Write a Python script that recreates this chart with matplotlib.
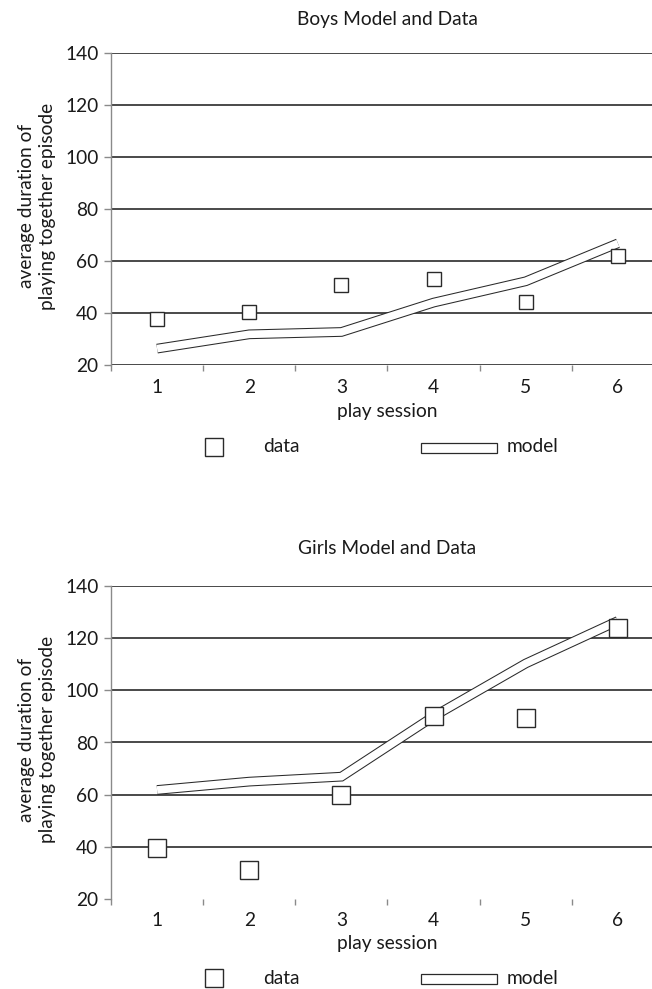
import matplotlib
matplotlib.use("Agg")
import matplotlib.pyplot as plt
import matplotlib.transforms as mtrans
from matplotlib.patches import Rectangle
from matplotlib.lines import Line2D

plt.rcParams['font.family'] = ['Lato', 'DejaVu Sans']

sessions = [1, 2, 3, 4, 5, 6]
session_labels = ["1", "2", "3", "4", "5", "6"]
y_ticks = [20, 40, 60, 80, 100, 120, 140]

boys_data = [37.8, 40.4, 50.9, 53.1, 44.2, 61.8]
boys_model = [26.3, 31.8, 32.7, 44.0, 52.2, 66.8]
girls_data = [39.4, 31.2, 60.0, 90.0, 89.4, 123.8]
girls_model = [61.8, 65.0, 66.9, 90.0, 110.3, 126.6]

titles = ["Boys Model and Data", "Girls Model and Data"]
ylabel = "average duration of\nplaying together episode"
xlabel = "play session"

W, H = 652, 989
DPI = 100
fig = plt.figure(figsize=(W / DPI, H / DPI), dpi=DPI)

TXT = "#1a1a1a"
GRID = "#3a3a3a"
AXC = "#8a8a8a"
FS = 13.8


def fx(px):
    return px / W


def fy(py):
    return 1 - py / H


panels = [
    dict(top=53, bottom=365, data=boys_data, model=boys_model, ms=10.4,
         title_y=20, xtick_y=388, xlabel_y=412, leg_y=447, bottom_line=True),
    dict(top=586, bottom=899, data=girls_data, model=girls_model, ms=12.9,
         title_y=549, xtick_y=921, xlabel_y=944, leg_y=978, bottom_line=False),
]

left_px, right_px = 111, 664

for i, p in enumerate(panels):
    ax = fig.add_axes([fx(left_px), fy(p['bottom']), fx(right_px - left_px),
                       (p['bottom'] - p['top']) / H])
    ax.set_xlim(0.5, 6.5)
    ax.set_ylim(20, 140)
    for yv in y_ticks:
        if yv == 20 and not p['bottom_line']:
            continue
        ax.axhline(yv, color=GRID, lw=1.3, zorder=1)
    # model: double line band
    ax.plot(sessions, p['model'], color="#2a2a2a", lw=7.0,
            solid_capstyle='butt', solid_joinstyle='miter', zorder=2)
    ax.plot(sessions, p['model'], color="white", lw=5.5,
            solid_capstyle='butt', solid_joinstyle='miter', zorder=3)
    ax.plot(sessions, p['data'], linestyle='none', marker='s', ms=p['ms'],
            mfc='white', mec="#2a2a2a", mew=1.0, zorder=4)

    for s in ['top', 'right', 'bottom']:
        ax.spines[s].set_visible(False)
    ax.spines['left'].set_color(AXC)
    ax.spines['left'].set_linewidth(1.0)

    ax.set_yticks(y_ticks)
    ax.set_yticklabels([str(v) for v in y_ticks], fontsize=FS, color=TXT)
    ax.tick_params(axis='y', direction='out', length=5, width=1.0, color=AXC, pad=4)

    ax.set_xticks(sessions)
    ax.set_xticklabels([])
    ax.set_xticks([0.5 + k for k in range(7)], minor=True)
    ax.tick_params(axis='x', which='major', length=0)
    ax.tick_params(axis='x', which='minor', direction='out', length=4.5,
                   width=1.0, color=AXC)

    # category labels placed through the data x scale
    trans = mtrans.blended_transform_factory(ax.transData, fig.transFigure)
    for s, lab in zip(sessions, session_labels):
        ax.text(s, fy(p['xtick_y']), lab, transform=trans, ha='center',
                va='center', fontsize=FS, color=TXT, clip_on=False)

    cx = fx((left_px + right_px) / 2)
    fig.text(cx, fy(p['title_y']), titles[i], ha='center', va='center',
             fontsize=FS, color=TXT)
    fig.text(cx, fy(p['xlabel_y']), xlabel, ha='center', va='center',
             fontsize=FS, color=TXT)
    fig.text(fx(37), fy((p['top'] + p['bottom']) / 2 - 3), ylabel,
             rotation=90, ha='center', va='center', fontsize=FS, color=TXT,
             multialignment='center', linespacing=1.25)

    # legend
    ly = p['leg_y']
    fig.add_artist(Line2D([fx(214)], [fy(ly)], marker='s', ms=13.0, mfc='white',
                          mec="#2a2a2a", mew=1.0, linestyle='none'))
    fig.text(fx(263), fy(ly), "data", ha='left', va='center', fontsize=FS, color=TXT)
    fig.add_artist(Rectangle((fx(421), fy(ly + 6)), fx(76), 10 / H,
                             facecolor='white', edgecolor="#2a2a2a", lw=0.9))
    fig.text(fx(507), fy(ly), "model", ha='left', va='center', fontsize=FS, color=TXT)

fig.savefig("out.png", dpi=DPI)
